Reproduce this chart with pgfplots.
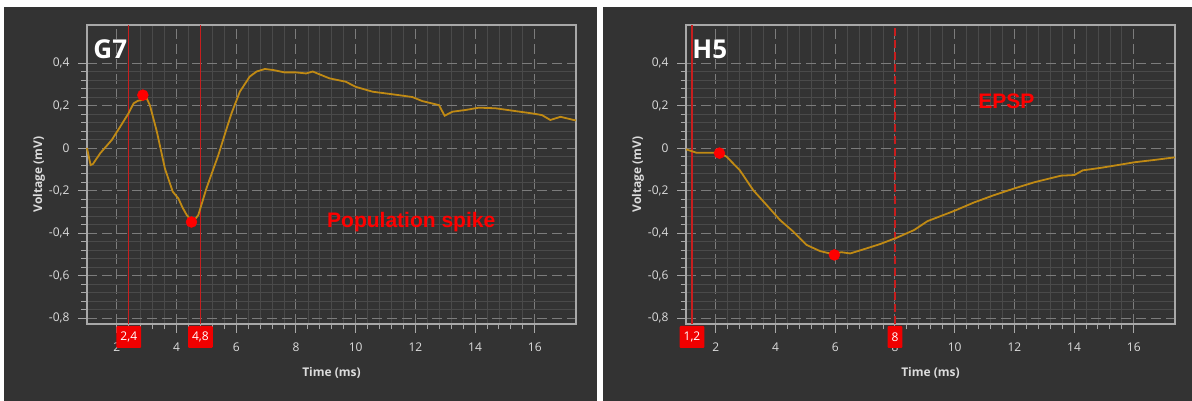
\documentclass[border=0pt]{standalone}
\usepackage{pgfplots}
\pgfplotsset{compat=1.18}
\usepackage{fontspec}
\setmainfont{Open Sans}
\newfontfamily\arialfont{Liberation Sans}
\definecolor{panelbg}{HTML}{333333}
\definecolor{axisgray}{HTML}{A8A8A8}
\definecolor{gridmaj}{HTML}{7C7C7C}
\definecolor{gridmin}{HTML}{4A4A4A}
\definecolor{ticklab}{HTML}{DCDCDC}
\definecolor{curve}{HTML}{C08A14}
\definecolor{vline}{HTML}{C81E1E}
\definecolor{boxred}{HTML}{F00000}
\pgfplotsset{
  panel/.style={
    scale only axis, width=489pt, height=299pt,
    xmin=1, xmax=17.38, ymin=-0.828, ymax=0.579,
    clip=false,
    axis line style={draw=axisgray, line width=1.2pt},
    xtick={2,4,6,8,10,12,14,16},
    ytick={-0.8,-0.6,-0.4,-0.2,0,0.2,0.4},
    yticklabels={{-0,8},{-0,6},{-0,4},{-0,2},0,{0,2},{0,4}},
    minor x tick num=4, minor y tick num=4,
    xtick pos=bottom, ytick pos=left,
    tick align=outside,
    major tick length=9pt, minor tick length=5.5pt,
    tick style={draw=axisgray, line width=1pt},
    grid=both,
    major grid style={draw=gridmaj, line width=1pt, dash pattern=on 10pt off 5pt},
    minor grid style={draw=gridmin, line width=0.8pt},
    tick label style={font=\fontsize{12}{14}\selectfont, text=ticklab},
    /pgf/number format/assume math mode=true,
    yticklabel style={xshift=-5pt},
    xticklabel style={yshift=-6pt},
    xlabel={Time (ms)}, ylabel={Voltage (mV)},
    label style={font=\fontsize{12}{14}\selectfont\bfseries, text=ticklab},
    xlabel style={at={(axis description cs:0.5,-0.164)}, anchor=center},
    ylabel style={at={(axis description cs:-0.098,0.5)}, anchor=center},
  },
}
\tikzset{
  redbox/.style={fill=boxred, text=white, inner xsep=4pt, inner ysep=0pt,
    minimum height=22pt, rounded corners=1pt, font=\fontsize{12}{14}\selectfont},
  paneltitle/.style={anchor=base west, inner sep=0pt, text=white,
    font=\fontsize{26}{30}\selectfont\bfseries},
  annot/.style={anchor=base, inner sep=0pt, text=red,
    font=\arialfont\fontsize{21}{24}\selectfont\bfseries},
}
\begin{document}
\begin{tikzpicture}
\fill[white] (0,0) rectangle (1192pt,401pt);
\fill[panelbg] (4pt,0) rectangle (597pt,394pt);
\fill[panelbg] (603pt,0) rectangle (1192pt,394pt);

% ---------------- G7 ----------------
\begin{axis}[panel, at={(87pt,77pt)}, anchor=south west]
\addplot[vline, line width=1.2pt] coordinates {(2.4,-0.828) (2.4,0.579)};
\addplot[vline, line width=1.2pt] coordinates {(4.8,-0.828) (4.8,0.579)};
\addplot[curve, line width=1.8pt] coordinates {
(1.00,0.000) (1.06,-0.040) (1.12,-0.080) (1.20,-0.075) (1.44,-0.025)
(1.83,0.038) (2.11,0.100) (2.39,0.163) (2.56,0.210) (2.70,0.222)
(2.84,0.226) (3.00,0.234) (3.11,0.200) (3.34,0.077) (3.61,-0.096)
(3.87,-0.205) (4.06,-0.237) (4.20,-0.280) (4.34,-0.315) (4.50,-0.342)
(4.62,-0.335) (4.73,-0.315) (5.00,-0.190) (5.40,-0.033) (5.68,0.093)
(5.84,0.163) (6.12,0.265) (6.45,0.336) (6.68,0.360) (6.96,0.372)
(7.24,0.367) (7.62,0.356) (8.00,0.356) (8.34,0.351) (8.56,0.360)
(9.12,0.328) (9.67,0.312) (10.00,0.288) (10.57,0.265) (11.23,0.253)
(11.90,0.240) (12.23,0.221) (12.79,0.202) (12.98,0.152) (13.24,0.171)
(13.68,0.179) (14.13,0.190) (14.69,0.187) (15.24,0.176) (15.91,0.163)
(16.24,0.155) (16.52,0.132) (16.86,0.147) (17.30,0.132) (17.38,0.130)
};
\addplot[only marks, mark=*, mark size=5.5pt, color=red] coordinates {(2.87,0.249) (4.50,-0.348)};
\coordinate (bA) at (axis cs:2.4,-0.889);
\coordinate (bB) at (axis cs:4.8,-0.889);
\node[paneltitle] at (axis cs:1.21,0.422) {G7};
\node[annot] at (axis cs:11.86,-0.376) {Population spike};
\end{axis}
\node[redbox] at (bA) {2,4};
\node[redbox] at (bB) {4,8};

% ---------------- H5 ----------------
\begin{axis}[panel, at={(686pt,77pt)}, anchor=south west]
\addplot[vline, line width=1.2pt] coordinates {(1.2,-0.828) (1.2,0.579)};
\addplot[vline, line width=1.2pt, dash pattern=on 8pt off 4pt] coordinates {(8,-0.828) (8,0.579)};
\addplot[curve, line width=1.8pt] coordinates {
(1.00,-0.006) (1.35,-0.022) (1.80,-0.022) (2.13,-0.022) (2.36,-0.041)
(2.80,-0.104) (3.25,-0.198) (3.70,-0.268) (4.15,-0.339) (4.60,-0.394)
(5.04,-0.456) (5.49,-0.485) (5.94,-0.500) (6.20,-0.490) (6.50,-0.496)
(6.94,-0.477) (7.50,-0.452) (8.06,-0.422) (8.64,-0.386) (9.09,-0.344)
(9.98,-0.296) (10.65,-0.256) (11.33,-0.221) (12.00,-0.190) (12.67,-0.161)
(13.56,-0.130) (14.01,-0.127) (14.29,-0.105) (14.90,-0.093) (15.47,-0.080)
(16.02,-0.067) (16.69,-0.056) (17.25,-0.046) (17.38,-0.044)
};
\addplot[only marks, mark=*, mark size=5.5pt, color=red] coordinates {(2.12,-0.024) (5.97,-0.503)};
\coordinate (bC) at (axis cs:1.2,-0.889);
\coordinate (bD) at (axis cs:8,-0.889);
\node[paneltitle] at (axis cs:1.21,0.422) {H5};
\node[annot] at (axis cs:11.73,0.187) {EPSP};
\end{axis}
\node[redbox] at (bC) {1,2};
\node[redbox] at (bD) {8};
\end{tikzpicture}
\end{document}
